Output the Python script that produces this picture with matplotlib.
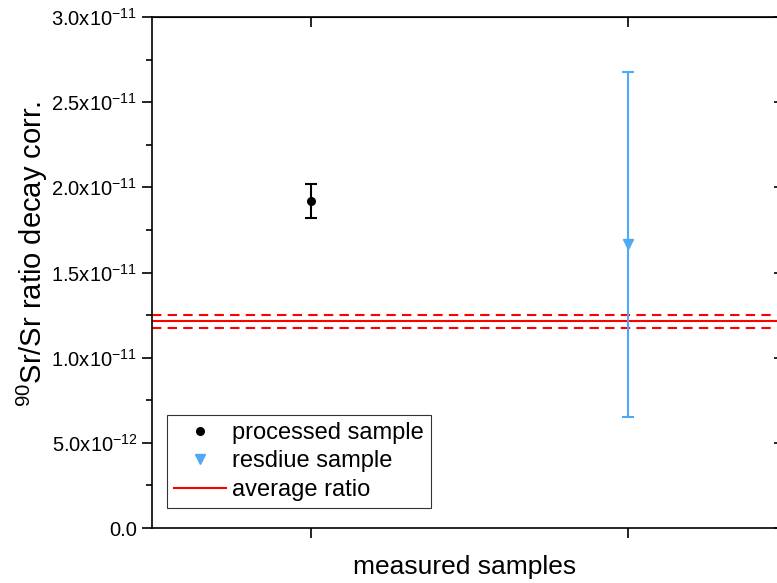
import numpy as np
import matplotlib
matplotlib.use("Agg")
import matplotlib.pyplot as plt
from matplotlib.ticker import FixedLocator, MultipleLocator

plt.rcParams['font.family'] = ['Liberation Sans', 'DejaVu Sans']
plt.rcParams['mathtext.default'] = 'regular'

# data
sample_x = [1, 2]
sample_names = ['processed sample', 'resdiue sample']
sample_vals = [1.92e-11, 1.665e-11]
sample_errs = [1.0e-12, 1.015e-11]
sample_colors = ['black', '#4fa9f7']
sample_markers = ['o', 'v']

avg_ratio = 1.213e-11
avg_ratio_err = 0.04e-11

ytick_vals = [0, 5e-12, 1e-11, 1.5e-11, 2e-11, 2.5e-11, 3e-11]
ytick_labels = ['0.0', '5.0x10$^{-12}$', '1.0x10$^{-11}$', '1.5x10$^{-11}$',
                '2.0x10$^{-11}$', '2.5x10$^{-11}$', '3.0x10$^{-11}$']

fig = plt.figure(figsize=(7.77, 5.83), dpi=100)
ax = fig.add_axes([152/777, 55/583, 634/777, 511/583])

handles = []
for x, v, e, c, m, name in zip(sample_x, sample_vals, sample_errs, sample_colors, sample_markers, sample_names):
    cont = ax.errorbar(x, v, yerr=e, fmt=m, color=c, ecolor=c, markersize=5.5 if m == 'o' else 6.5,
                       elinewidth=1.5, capsize=4.5, capthick=1.5, label=name, zorder=3)
    handles.append(cont[0])

line, = ax.plot([0.5, 2.5], [avg_ratio, avg_ratio], color='red', lw=1.5, label='average ratio')
for s in (-1, 1):
    ax.plot([0.5, 2.5], [avg_ratio + s*avg_ratio_err]*2, color='red', lw=1.5, ls=(0, (4.5, 3)))
handles.append(line)

ax.set_xlim(0.5, 2.5)
ax.set_ylim(0, 3e-11)
ax.xaxis.set_major_locator(FixedLocator(sample_x))
ax.set_xticklabels([])
ax.yaxis.set_major_locator(FixedLocator(ytick_vals))
ax.set_yticklabels(ytick_labels)
ax.yaxis.set_minor_locator(MultipleLocator(2.5e-12))

ax.tick_params(axis='y', which='major', direction='out', length=7, width=1.2, labelsize=14.5, left=True, right=False)
ax.tick_params(axis='y', which='minor', direction='out', length=4, width=1.2, left=True, right=False)
ax.tick_params(axis='x', which='major', direction='out', length=7, width=1.2, top=False)
for sp in ax.spines.values():
    sp.set_linewidth(1.2)

# inward ticks on top and right, like the original
sec_x = ax.secondary_xaxis('top')
sec_x.xaxis.set_major_locator(FixedLocator(sample_x))
sec_x.set_xticklabels([])
sec_x.tick_params(direction='in', length=7, width=1.2)
sec_y = ax.secondary_yaxis('right')
sec_y.yaxis.set_major_locator(FixedLocator(ytick_vals))
sec_y.set_yticklabels([])
sec_y.tick_params(direction='in', length=9, width=1.2)

ax.set_xlabel('measured samples', fontsize=19)
ax.xaxis.set_label_coords((464.5-152)/634, -0.076)
ax.xaxis.label.set_va('center')
ax.set_ylabel('$^{90}$Sr/Sr ratio decay corr.', fontsize=21)
ax.yaxis.set_label_coords(-0.161, 0.536)

leg = ax.legend(handles, sample_names + ['average ratio'], loc='lower left',
                bbox_to_anchor=(0.0237, 0.039), fontsize=17, frameon=True, fancybox=False,
                edgecolor='black', borderpad=0.3, labelspacing=0.28, handlelength=2.2,
                handletextpad=0.25, borderaxespad=0)
leg.get_frame().set_linewidth(0.8)

fig.savefig('out.png', dpi=100)
